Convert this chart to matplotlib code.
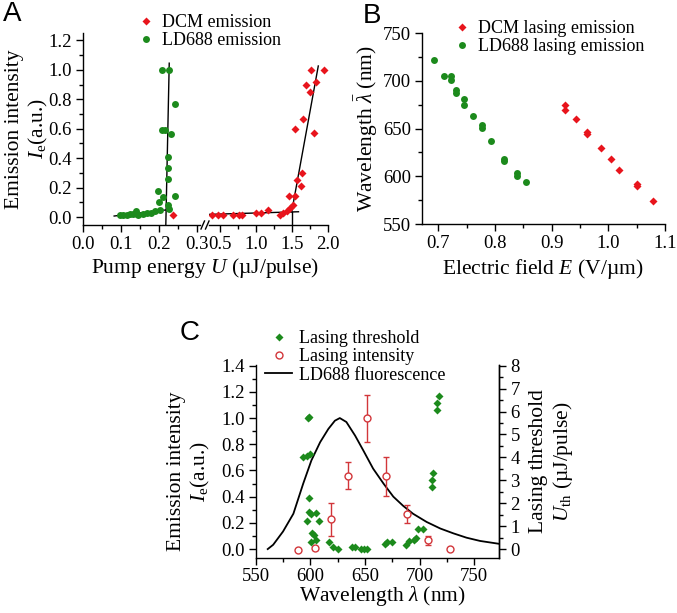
import matplotlib
matplotlib.use("Agg")
import matplotlib.pyplot as plt
from matplotlib.lines import Line2D
from matplotlib.ticker import MultipleLocator, FormatStrFormatter

plt.rcParams["font.family"] = ["Liberation Serif", "DejaVu Serif"]
plt.rcParams["mathtext.fontset"] = "custom"
plt.rcParams["mathtext.rm"] = "Liberation Serif"
plt.rcParams["mathtext.it"] = "Liberation Serif:italic"
plt.rcParams["mathtext.bf"] = "Liberation Serif:bold"

RED = "#e8141c"
GREEN = "#1c8a1c"
RED_OPEN = "#d2363a"

# ---- panel A: emission intensity vs pump energy
ld688_pump = [0.097, 0.106, 0.115, 0.124, 0.132, 0.139, 0.141, 0.146, 0.159, 0.168,
              0.178, 0.189, 0.198, 0.201, 0.203, 0.211, 0.207, 0.216, 0.209, 0.227,
              0.232, 0.224, 0.224, 0.224, 0.224, 0.226, 0.242, 0.242]
ld688_int = [0.015, 0.015, 0.015, 0.018, 0.02, 0.04, 0.02, 0.015, 0.02, 0.03,
             0.03, 0.04, 0.18, 0.10, 0.045, 0.135, 0.59, 0.59, 1.0, 1.0,
             0.565, 0.405, 0.335, 0.26, 0.08, 0.055, 0.765, 0.14]
dcm_pump = [0.238, 0.385, 0.468, 0.546, 0.685, 0.764, 0.801, 1.0, 1.069, 1.162,
            1.333, 1.38, 1.426, 1.458, 1.472, 1.518, 1.546, 1.574, 1.62, 1.643,
            1.546, 1.657, 1.694, 1.75, 1.76, 1.806, 1.829, 1.949]
dcm_int = [0.015, 0.015, 0.015, 0.015, 0.015, 0.015, 0.015, 0.03, 0.03, 0.05,
           0.012, 0.025, 0.04, 0.145, 0.06, 0.08, 0.145, 0.25, 0.21, 0.30,
           0.60, 0.667, 0.90, 0.85, 1.0, 0.57, 0.92, 1.0]

# fitted threshold lines
ld688_low_x, ld688_low_y = [0.082, 0.231], [0.007, 0.052]
ld688_high_x, ld688_high_y = [0.218, 0.227], [-0.054, 1.045]
dcm_low_x, dcm_low_y = [0.338, 1.59], [0.018, 0.036]
dcm_high_x, dcm_high_y = [1.496, 1.865], [0.036, 1.026]
dcm_thr_x, dcm_thr_y = [1.5, 1.5], [-0.054, 0.034]

# ---- panel B: lasing wavelength vs electric field
ld688_field = [0.692, 0.7106, 0.7224, 0.7224, 0.7306, 0.7306, 0.746, 0.746, 0.7606,
               0.7765, 0.7765, 0.7924, 0.8159, 0.8159, 0.8394, 0.8394, 0.8547]
ld688_wl = [722, 705, 705, 701, 691, 687, 681, 675, 663, 654, 651, 637, 618, 616,
            603, 600, 594]
dcm_field = [0.9235, 0.9235, 0.9429, 0.9617, 0.9617, 0.9864, 1.004, 1.0193, 1.051,
             1.051, 1.078]
dcm_wl = [675, 670, 660, 647, 644, 630, 618, 607, 592, 590, 574]

# ---- panel C: threshold / intensity vs wavelength
thr_wl = [593.6, 596.9, 599.6, 598.2, 598.6, 598.5, 598.5, 600.7, 596.9, 605.0,
          608.2, 601.8, 603.3, 600.7, 605.0, 617.5, 620.6, 625.5, 638.3, 641.3,
          646.0, 649.0, 652.0, 668.8, 670.3, 674.9, 687.5, 690.1, 695.3, 697.0,
          698.5, 703.3, 711.5, 711.5, 712.1, 716.0, 716.0, 717.7]
thr_val = [4.0, 4.05, 4.13, 5.71, 5.78, 2.23, 1.6, 1.55, 1.24, 1.56,
           1.24, 0.69, 0.63, 0.33, 0.4, 0.29, 0.09, 0.02, 0.07, 0.08,
           0.02, 0.02, 0.02, 0.23, 0.3, 0.3, 0.16, 0.37, 0.41, 0.5,
           0.88, 0.88, 2.72, 3.01, 3.3, 6.05, 6.37, 6.66]
int_wl = [589.0, 604.3, 618.7, 634.8, 651.6, 669.3, 688.3, 707.5, 728.0]
int_val = [-0.008, 0.005, 0.227, 0.56, 0.997, 0.556, 0.268, 0.066, 0.0]
int_err = [0.01, 0.01, 0.127, 0.105, 0.176, 0.148, 0.072, 0.035, 0.01]
fluo_wl = [561, 566, 575, 584.5, 593.5, 601, 609, 616.5, 622.5, 627, 633, 641,
           648.5, 657.5, 667, 676, 685, 694, 706.5, 719, 731, 743, 755.5, 773]
fluo_val = [0.0, 0.033, 0.134, 0.27, 0.5, 0.677, 0.816, 0.917, 0.98, 1.0, 0.97,
            0.866, 0.753, 0.614, 0.5, 0.4, 0.33, 0.27, 0.207, 0.157, 0.12, 0.087,
            0.062, 0.04]

TICK_FS = 13.5
LABEL_FS = 15.5
LEG_FS = 13
CIRCLE_MS = 5.0
DIAMOND_MS = 3.9


def style(ax, spines=("left", "bottom")):
    for side in ("left", "right", "top", "bottom"):
        ax.spines[side].set_visible(side in spines)
        ax.spines[side].set_linewidth(1.0)
    ax.tick_params(which="major", direction="out", length=5, width=1,
                   labelsize=TICK_FS, pad=3)
    ax.tick_params(which="minor", direction="out", length=3, width=1)
    ax.patch.set_alpha(0)


def legend(handles, x, y, hlen=1.0):
    fig.legend(handles=handles, loc="upper left", bbox_to_anchor=(x / W, 1 - y / H),
               frameon=False, fontsize=LEG_FS, handlelength=hlen,
               handletextpad=0.36, labelspacing=0.07, borderpad=0, borderaxespad=0)


fig = plt.figure(figsize=(6.77, 6.13), dpi=100)
W, H = 677.0, 613.0


def rect(x0, y_top, x1, y_bot):
    return [x0 / W, 1 - y_bot / H, (x1 - x0) / W, (y_bot - y_top) / H]


# ---------------- panel A (broken x axis)
axl = fig.add_axes(rect(83, 33, 200, 225))
axr = fig.add_axes(rect(209, 33, 328, 225))
for ax in (axl, axr):
    ax.plot(ld688_low_x, ld688_low_y, color="black", lw=1)
    ax.plot(ld688_high_x, ld688_high_y, color="black", lw=1)
    ax.plot(dcm_low_x, dcm_low_y, color="black", lw=1)
    ax.plot(dcm_high_x, dcm_high_y, color="black", lw=1)
    ax.plot(dcm_thr_x, dcm_thr_y, color="black", lw=1)
    ax.plot(ld688_pump, ld688_int, "o", color=GREEN, ms=CIRCLE_MS, mec="none")
    ax.plot(dcm_pump, dcm_int, "D", color=RED, ms=DIAMOND_MS, mec="none")
    ax.set_ylim(-0.054, 1.25)

style(axl)
axl.set_xlim(0, 0.308)
axl.xaxis.set_major_locator(MultipleLocator(0.1))
axl.xaxis.set_minor_locator(MultipleLocator(0.05))
axl.xaxis.set_major_formatter(FormatStrFormatter("%.1f"))
axl.yaxis.set_major_locator(MultipleLocator(0.2))
axl.yaxis.set_minor_locator(MultipleLocator(0.1))
axl.yaxis.set_major_formatter(FormatStrFormatter("%.1f"))
axl.set_ylabel("Emission intensity\n$I_\\mathrm{e}$(a.u.)", fontsize=LABEL_FS,
               multialignment="center")
axl.yaxis.set_label_coords(-0.28, 0.5)

style(axr, spines=("bottom",))
axr.set_xlim(0.347, 2.0)
axr.xaxis.set_major_locator(MultipleLocator(0.5))
axr.xaxis.set_minor_locator(MultipleLocator(0.25))
axr.xaxis.set_major_formatter(FormatStrFormatter("%.1f"))
axr.set_yticks([])

# break marks
for bx in (201, 205.5):
    fig.add_artist(Line2D([bx / W, (bx + 3.5) / W], [1 - 229 / H, 1 - 221 / H],
                          transform=fig.transFigure, color="black", lw=1))

fig.text(205 / W, 1 - 268 / H, "Pump energy $U$ (µJ/pulse)", fontsize=LABEL_FS,
         ha="center", va="center")
fig.text(12 / W, 1 - 14 / H, "A", fontsize=20, family="Liberation Sans",
         ha="center", va="center")
legend([Line2D([], [], ls="none", marker="D", color=RED, ms=DIAMOND_MS, mec="none",
               label="DCM emission"),
        Line2D([], [], ls="none", marker="o", color=GREEN, ms=CIRCLE_MS, mec="none",
               label="LD688 emission")], 137, 14)

# ---------------- panel B
axb = fig.add_axes(rect(422.3, 33.3, 665, 224))
style(axb)
axb.plot(ld688_field, ld688_wl, "o", color=GREEN, ms=CIRCLE_MS, mec="none")
axb.plot(dcm_field, dcm_wl, "D", color=RED, ms=DIAMOND_MS, mec="none")
axb.set_xlim(0.672, 1.1)
axb.set_ylim(550, 750)
axb.xaxis.set_major_locator(MultipleLocator(0.1))
axb.xaxis.set_minor_locator(MultipleLocator(0.05))
axb.xaxis.set_major_formatter(FormatStrFormatter("%.1f"))
axb.yaxis.set_major_locator(MultipleLocator(50))
axb.yaxis.set_minor_locator(MultipleLocator(25))
axb.set_xlabel("Electric field $E$ (V/µm)", fontsize=LABEL_FS)
axb.xaxis.set_label_coords(0.497, -0.175)
axb.set_ylabel("Wavelength $\\bar{\\lambda}$ (nm)", fontsize=LABEL_FS)
axb.yaxis.set_label_coords(-0.175, 0.5)
fig.text(372 / W, 1 - 16 / H, "B", fontsize=20, family="Liberation Sans",
         ha="center", va="center")
legend([Line2D([], [], ls="none", marker="D", color=RED, ms=DIAMOND_MS, mec="none",
               label="DCM lasing emission"),
        Line2D([], [], ls="none", marker="o", color=GREEN, ms=CIRCLE_MS, mec="none",
               label="LD688 lasing emission")], 453, 20)

# ---------------- panel C
axc = fig.add_axes(rect(255.7, 365, 499.3, 558))
axt = axc.twinx()
style(axc, spines=("left", "bottom", "right"))
style(axt, spines=("right",))
axc.tick_params(axis="x", which="major", pad=2)
axc.plot(fluo_wl, fluo_val, color="black", lw=1.3)
axc.errorbar(int_wl, int_val, yerr=int_err, fmt="o", color=RED_OPEN, mfc="white",
             mec=RED_OPEN, ms=CIRCLE_MS, mew=1.0, elinewidth=1.0, capsize=2.5,
             capthick=1.0)
axt.plot(thr_wl, thr_val, "D", color=GREEN, ms=DIAMOND_MS, mec="none")
axc.set_xlim(550, 773)
axc.set_ylim(-0.068, 1.405)
axt.set_ylim(-0.068 * 8 / 1.4, 1.405 * 8 / 1.4)
axc.xaxis.set_major_locator(MultipleLocator(50))
axc.xaxis.set_minor_locator(MultipleLocator(25))
axc.yaxis.set_major_locator(MultipleLocator(0.2))
axc.yaxis.set_minor_locator(MultipleLocator(0.1))
axc.yaxis.set_major_formatter(FormatStrFormatter("%.1f"))
axt.yaxis.set_major_locator(MultipleLocator(1))
axt.yaxis.set_minor_locator(MultipleLocator(0.5))
axc.tick_params(axis="y", which="both", right=False)
axc.set_xlabel("Wavelength $\\lambda$ (nm)", fontsize=LABEL_FS)
axc.xaxis.set_label_coords(0.52, -0.135)
axc.set_ylabel("Emission intensity\n$I_\\mathrm{e}$(a.u.)", fontsize=LABEL_FS,
               multialignment="center")
axc.yaxis.set_label_coords(-0.18, 0.45)
axt.set_ylabel("Lasing threshold\n$U_\\mathrm{th}$ (µJ/pulse)", fontsize=LABEL_FS,
               multialignment="center", rotation=90)
axt.yaxis.set_label_coords(1.12, 0.5)
fig.text(190 / W, 1 - 333 / H, "C", fontsize=20, family="Liberation Sans",
         ha="center", va="center")
legend([Line2D([], [], ls="none", marker="D", color=GREEN, ms=DIAMOND_MS, mec="none",
               label="Lasing threshold"),
        Line2D([], [], ls="none", marker="o", color=RED_OPEN, mfc="white",
               mec=RED_OPEN, ms=CIRCLE_MS, mew=1.0, label="Lasing intensity"),
        Line2D([], [], color="black", lw=1.3, label="LD688 fluorescence")],
       265, 330, hlen=1.5)

fig.savefig("out.png", dpi=100)
